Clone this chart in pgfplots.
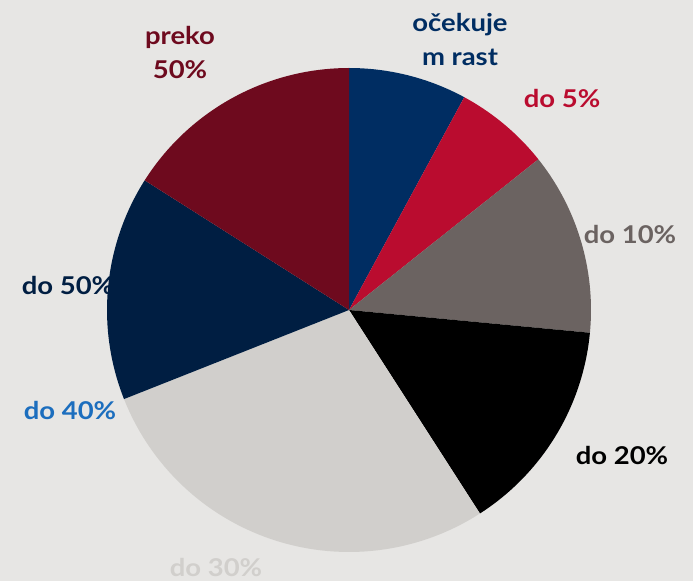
\documentclass[border=0pt]{standalone}
\usepackage{fontspec}
\setmainfont{Lato}
\newfontfamily\lblfont[FakeStretch=1.12]{Lato}
\usepackage{pgfplots}
\pgfplotsset{compat=1.18}
\definecolor{bg}{HTML}{E7E6E4}
\definecolor{cNavy}{HTML}{002D62}
\definecolor{cRed}{HTML}{BA0C2F}
\definecolor{cTaupe}{HTML}{6B6361}
\definecolor{cBlack}{HTML}{000000}
\definecolor{cLight}{HTML}{D1CFCC}
\definecolor{cBlue}{HTML}{1C6EBE}
\definecolor{cDNavy}{HTML}{001E42}
\definecolor{cDRed}{HTML}{6E0A1E}
\tikzset{lbl/.style={font=\lblfont\fontsize{24.5}{34}\selectfont\bfseries, align=center, inner sep=0pt}}
\begin{document}
\begin{tikzpicture}
\clip (0,0) rectangle (693pt,581pt);
\begin{axis}[
  at={(0,0)}, anchor=south west,
  width=693pt, height=581pt, scale only axis,
  xmin=0, xmax=693, ymin=0, ymax=581,
  axis line style={draw=none}, ticks=none,
  axis background/.style={fill=bg},
  clip=false,
]
% shares (%): ocekujem rast 7.9, do 5% 6.4, do 10% 12.2, do 20% 14.4,
% do 30% 28.1, do 40% 0, do 50% 15.0, preko 50% 16.0 ; start at 90 deg, clockwise
\addplot[fill=cNavy, draw=none, domain=61.56:90, samples=40, variable=\t] ({349+242*cos(\t)},{271+242*sin(\t)}) -- (axis cs:349,271) -- cycle;
\addplot[fill=cRed, draw=none, domain=38.52:61.56, samples=40, variable=\t] ({349+242*cos(\t)},{271+242*sin(\t)}) -- (axis cs:349,271) -- cycle;
\addplot[fill=cTaupe, draw=none, domain=-5.40:38.52, samples=40, variable=\t] ({349+242*cos(\t)},{271+242*sin(\t)}) -- (axis cs:349,271) -- cycle;
\addplot[fill=cBlack, draw=none, domain=-57.24:-5.40, samples=40, variable=\t] ({349+242*cos(\t)},{271+242*sin(\t)}) -- (axis cs:349,271) -- cycle;
\addplot[fill=cLight, draw=none, domain=-158.40:-57.24, samples=60, variable=\t] ({349+242*cos(\t)},{271+242*sin(\t)}) -- (axis cs:349,271) -- cycle;
\addplot[fill=cDNavy, draw=none, domain=-212.40:-158.40, samples=40, variable=\t] ({349+242*cos(\t)},{271+242*sin(\t)}) -- (axis cs:349,271) -- cycle;
\addplot[fill=cDRed, draw=none, domain=-270:-212.40, samples=40, variable=\t] ({349+242*cos(\t)},{271+242*sin(\t)}) -- (axis cs:349,271) -- cycle;

\node[lbl, text=cNavy] at (axis cs:460,541) {očekuje\\m rast};
\node[lbl, text=cRed] at (axis cs:562,482) {do 5\%};
\node[lbl, text=cTaupe] at (axis cs:630,346) {do 10\%};
\node[lbl, text=cBlack] at (axis cs:622,125) {do 20\%};
\node[lbl, text=cLight] at (axis cs:216,13) {do 30\%};
\node[lbl, text=cBlue] at (axis cs:70,170) {do 40\%};
\node[lbl, text=cDNavy] at (axis cs:68,295) {do 50\%};
\node[lbl, text=cDRed] at (axis cs:180,528) {preko\\50\%};
\end{axis}
\end{tikzpicture}
\end{document}
